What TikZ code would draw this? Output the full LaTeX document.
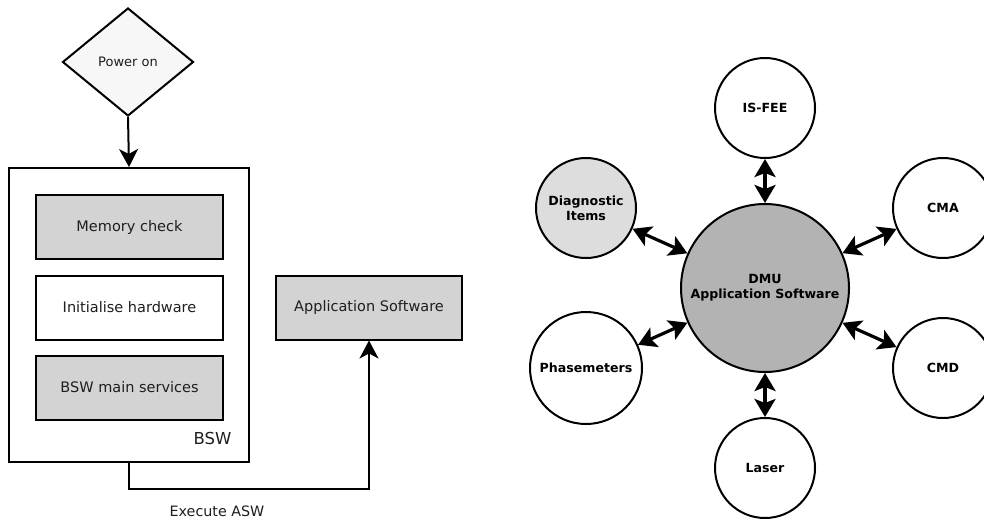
\documentclass[tikz,border=0pt]{standalone}
\usepackage{fontspec}
\setmainfont{DejaVu Sans}
\usetikzlibrary{shapes.geometric,arrows.meta,calc}
\definecolor{boxgray}{HTML}{D3D3D3}
\definecolor{dmugray}{HTML}{B3B3B3}
\definecolor{diaggray}{HTML}{DDDDDD}
\definecolor{diamondfill}{HTML}{F7F7F7}
\definecolor{txt}{HTML}{1E1E1E}
\tikzset{
  stepbox/.style={draw=black, line width=2pt, minimum width=187pt, minimum height=64pt, inner sep=0pt, font=\fontsize{14.5}{17}\selectfont, text=txt},
  outerbox/.style={draw=black, line width=2pt, minimum width=240pt, minimum height=294pt, inner sep=0pt},
  flowarrow/.style={line width=2pt, -{Stealth[length=18pt 0 0, width=19pt 0 0, inset=5pt 0 0]}},
  orb/.style={circle, draw=black, line width=2pt, fill=white, minimum size=100pt, inner sep=0pt, align=center, font=\bfseries\fontsize{12.6}{15}\selectfont},
  dbl/.style={line width=3.2pt, {Stealth[length=18pt 0 0, width=21pt 0 0, inset=4pt 0 0]}-{Stealth[length=18pt 0 0, width=21pt 0 0, inset=4pt 0 0]}},
}
\begin{document}
\begin{tikzpicture}[x=1pt, y=-1pt]
\useasboundingbox (0,0) rectangle (984,519);
% ---------- left flow ----------
\node[diamond, draw=black, line width=2pt, fill=diamondfill, minimum width=131pt, minimum height=108pt, inner sep=0pt, font=\fontsize{13}{15}\selectfont, text=txt] (power) at (128,62) {Power on};
\node[outerbox] (bsw) at (129,315) {};
\node[stepbox, fill=boxgray] (mem) at (129.5,227) {Memory check};
\node[stepbox, fill=white] (init) at (129.5,307.5) {Initialise hardware};
\node[stepbox, fill=boxgray] (main) at (129.5,387.5) {BSW main services};
\node[font=\fontsize{16.5}{18}\selectfont, text=txt, anchor=east] (bswlabel) at (235,438) {BSW};
\node[stepbox, fill=boxgray, minimum width=186pt] (asw) at (369,307.5) {Application Software};
\draw[flowarrow] (power.south) -- (bsw.north);
\coordinate (turn) at (129,489);
\draw[flowarrow] (bsw.south) -- (turn) -| (asw.south);
\node[font=\fontsize{14.3}{16}\selectfont, text=txt] (exec) at (217,511) {Execute ASW};
% ---------- right context diagram ----------
\node[orb, fill=dmugray, minimum size=168pt] (dmu) at (765,288) {DMU\\Application Software};
\node[orb] (isfee) at (765,108) {IS-FEE};
\node[orb, fill=diaggray] (diag) at (586,208) {Diagnostic\\Items};
\node[orb] (cma) at (943,208) {CMA};
\node[orb, minimum size=112pt] (phase) at (586,368) {Phasemeters};
\node[orb] (cmd) at (943,368) {CMD};
\node[orb] (laser) at (765,468) {Laser};
\draw[dbl] (dmu) -- (isfee);
\draw[dbl] (dmu) -- (diag);
\draw[dbl] (dmu) -- (cma);
\draw[dbl] (dmu) -- (phase);
\draw[dbl] (dmu) -- (cmd);
\draw[dbl] (dmu) -- (laser);
\end{tikzpicture}
\end{document}
